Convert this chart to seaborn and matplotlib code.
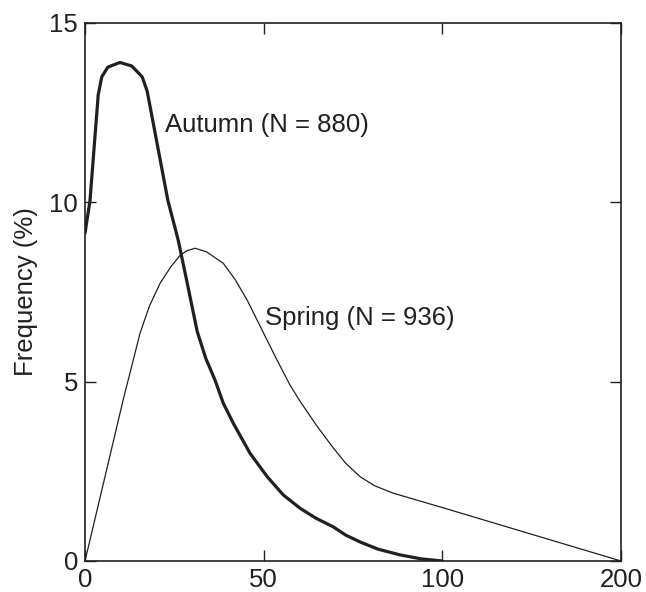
import numpy as np
import matplotlib
matplotlib.use("Agg")
import matplotlib.pyplot as plt
import seaborn as sns

# ---- data ----
autumn_x = [0, 1.4, 3.7, 4.7, 6.4, 9.8, 13.1, 16, 17.4, 23.2, 26.1, 28.5, 31.4, 33.8,
            36.4, 38.7, 41.5, 46.2, 51, 55.5, 60.2, 64.5, 69.5, 73, 77, 82, 88.2, 94, 100]
autumn_y = [9.14, 10.05, 13.0, 13.5, 13.77, 13.9, 13.8, 13.5, 13.1, 10.05, 8.94, 7.8, 6.4, 5.65,
            5.04, 4.4, 3.84, 3.0, 2.35, 1.84, 1.47, 1.2, 0.95, 0.72, 0.53, 0.33, 0.17, 0.06, 0.0]

spring_x = [0, 5, 10.6, 15.4, 18, 21, 24, 26.6, 28.5, 30.8, 34, 38.7, 42, 45.4, 50, 53.5,
            57.4, 60.2, 65, 69.5, 73, 77, 81, 86.3, 100, 200]
spring_y = [0, 2.1, 4.46, 6.35, 7.1, 7.74, 8.2, 8.52, 8.65, 8.72, 8.62, 8.3, 7.85, 7.27, 6.35, 5.65,
            4.9, 4.45, 3.75, 3.15, 2.72, 2.35, 2.1, 1.89, 1.49, 0.0]

x_ticks = [0, 50, 100, 200]
y_ticks = [0, 5, 10, 15]
autumn_label = "Autumn (N = 880)"
spring_label = "Spring (N = 936)"
y_title = "Frequency (%)"

sns.set_style("ticks")
plt.rcParams["font.family"] = ["Liberation Sans", "DejaVu Sans"]
INK = "#231f20"
FS = 18.5

fig = plt.figure(figsize=(6.46, 5.92), dpi=100)
ax = fig.add_axes([85 / 646, 1 - 561 / 592, (621 - 85) / 646, (561 - 23) / 592])

sns.lineplot(x=autumn_x, y=autumn_y, ax=ax, color=INK, linewidth=2.3,
             estimator=None, sort=False, solid_joinstyle="round", solid_capstyle="round")
sns.lineplot(x=spring_x, y=spring_y, ax=ax, color=INK, linewidth=0.9,
             estimator=None, sort=False, solid_joinstyle="round")


def fwd(v):
    v = np.asarray(v, dtype=float)
    return np.where(v <= 100, v, 100 + (v - 100) / 2.0)


def inv(v):
    v = np.asarray(v, dtype=float)
    return np.where(v <= 100, v, 100 + (v - 100) * 2.0)


ax.set_xscale("function", functions=(fwd, inv))
ax.set_xlim(0, 200)
ax.set_ylim(0, 15)
ax.set_xticks(x_ticks)
ax.set_xticklabels([str(t) for t in x_ticks])
ax.set_yticks(y_ticks)
ax.set_yticklabels([str(t) for t in y_ticks])
ax.minorticks_off()

ax.tick_params(direction="in", top=True, right=True, length=8, width=1,
               labelsize=FS, colors=INK, pad=5)
for s in ax.spines.values():
    s.set_visible(True)
    s.set_linewidth(1.2)
    s.set_color(INK)

ax.set_xlabel("")
ax.set_ylabel(y_title, fontsize=FS, labelpad=8, color=INK)

ax.text(22.4, 12.15, autumn_label, fontsize=FS, va="center", ha="left", color=INK)
ax.text(50.4, 6.77, spring_label, fontsize=FS, va="center", ha="left", color=INK)

fig.savefig("out.png", dpi=100)
